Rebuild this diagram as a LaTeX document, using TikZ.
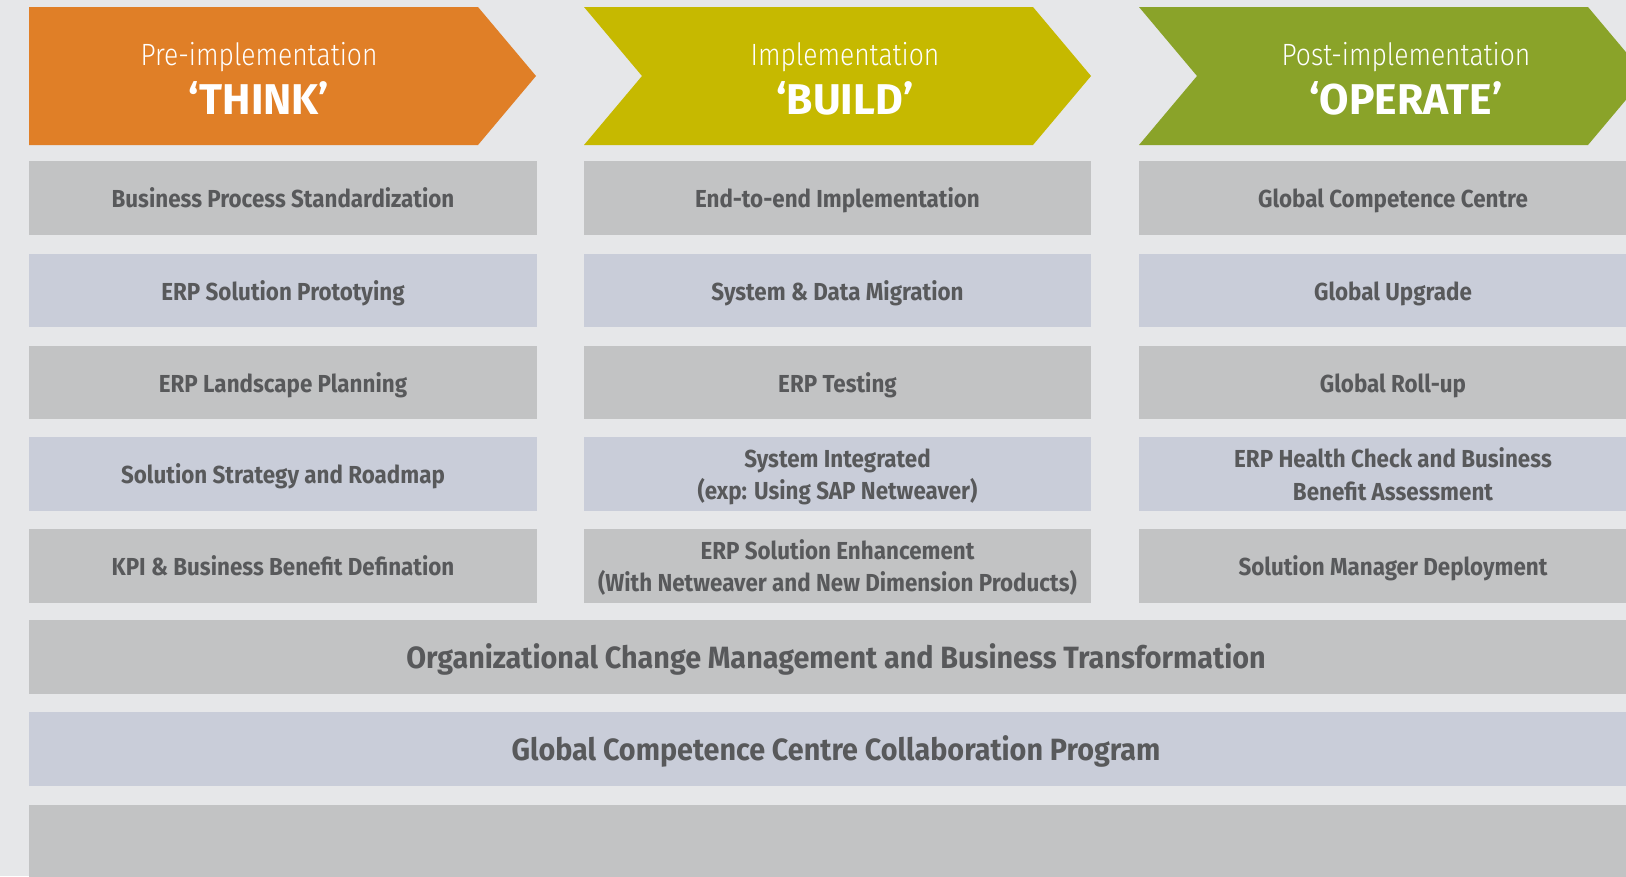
\documentclass[tikz,border=0pt]{standalone}
\usepackage{fontspec}
\usepackage{xcolor}
\usetikzlibrary{positioning}
\newfontfamily\boxfont{Fira Sans Bold}[FakeStretch=0.91]
\newfontfamily\bandfont{Fira Sans Bold}[FakeStretch=0.935]
\newfontfamily\lightfont{Fira Sans Light}[FakeStretch=0.86]
\newfontfamily\headfont{Fira Sans Bold}[FakeStretch=0.99]
\definecolor{bgcol}{HTML}{E6E7E9}
\definecolor{boxgray}{HTML}{C2C3C4}
\definecolor{boxblue}{HTML}{C9CDD9}
\definecolor{txtgray}{HTML}{58595B}
\definecolor{thinkcol}{HTML}{E07F27}
\definecolor{buildcol}{HTML}{C6B900}
\definecolor{operatecol}{HTML}{8AA329}
\tikzset{box/.style={rectangle,minimum width=10.16cm,minimum height=1.48cm,inner sep=0pt,text=txtgray,align=center,
    font=\boxfont\fontsize{14}{18.5}\selectfont,execute at begin node={\rule[-0.25em]{0pt}{\dimexpr1.19em+1.5pt\relax}}}}
\tikzset{greybox/.style={box,fill=boxgray}}
\tikzset{bluebox/.style={box,fill=boxblue}}
\tikzset{twoline/.style={text depth=0pt}}
\tikzset{band/.style={box,minimum width=32.28cm,font=\bandfont\fontsize{17.5}{21}\selectfont,
    execute at begin node={\rule[-0.25em]{0pt}{\dimexpr1.19em-0.5pt\relax}}}}
\tikzset{phase/.style={text=white,inner sep=0pt,font=\lightfont\fontsize{17.5}{20}\selectfont}}
\tikzset{phasename/.style={text=white,inner sep=0pt,font=\headfont\fontsize{24.5}{28}\selectfont}}

\begin{document}
\begin{tikzpicture}[x=0.02cm,y=-0.02cm]
        \useasboundingbox (0,0) rectangle (1626,876);
        \clip (0,0) rectangle (1626,876);
        \fill[bgcol] (0,0) rectangle (1626,876);

        % phase chevrons
        \fill[thinkcol] (29,7) -- (478,7) -- (536,76) -- (478,145) -- (29,145) -- cycle;
        \fill[buildcol] (584,7) -- (1033,7) -- (1091,76) -- (1033,145) -- (584,145) -- (642,76) -- cycle;
        \fill[operatecol] (1139,7) -- (1588,7) -- (1646,76) -- (1588,145) -- (1139,145) -- (1197,76) -- cycle;
        \node[phase] (think) at (259,57) {Pre-implementation};
        \node[phasename] (thinkname) at (259,98) {‘THINK’};
        \node[phase] (build) at (845,57) {Implementation};
        \node[phasename] (buildname) at (845,98) {‘BUILD’};
        \node[phase] (operate) at (1406,57) {Post-implementation};
        \node[phasename] (operatename) at (1406,98) {‘OPERATE’};

        % think column
        \node[greybox] (t1) at (283,198) {Business Process Standardization};
        \node[bluebox] (t2) at (283,290.5) {ERP Solution Prototying};
        \node[greybox] (t3) at (283,382.5) {ERP Landscape Planning};
        \node[bluebox] (t4) at (283,474) {Solution Strategy and Roadmap};
        \node[greybox] (t5) at (283,565.5) {KPI \& Business Benefit Defination};

        % build column
        \node[greybox] (b1) at (837.5,198) {End-to-end Implementation};
        \node[bluebox] (b2) at (837.5,290.5) {System \& Data Migration};
        \node[greybox] (b3) at (837.5,382.5) {ERP Testing};
        \node[bluebox,twoline] (b4) at (837.5,474) {System Integrated\\(exp: Using SAP Netweaver)};
        \node[greybox,twoline] (b5) at (837.5,565.5) {ERP Solution Enhancement\\(With Netweaver and New Dimension Products)};

        % operate column
        \node[greybox] (o1) at (1393,198) {Global Competence Centre};
        \node[bluebox] (o2) at (1393,290.5) {Global Upgrade};
        \node[greybox] (o3) at (1393,382.5) {Global Roll-up};
        \node[bluebox,twoline] (o4) at (1393,474) {ERP Health Check and Business\\Benefit Assessment};
        \node[greybox] (o5) at (1393,565.5) {Solution Manager Deployment};

        % bands across all phases
        \node[band,fill=boxgray] (ocm) at (836,657) {Organizational Change Management and Business Transformation};
        \node[band,fill=boxblue] (gcc) at (836,749) {Global Competence Centre Collaboration Program};
        \node[band,fill=boxgray] (last) at (836,842) {};
    \end{tikzpicture}
\end{document}
